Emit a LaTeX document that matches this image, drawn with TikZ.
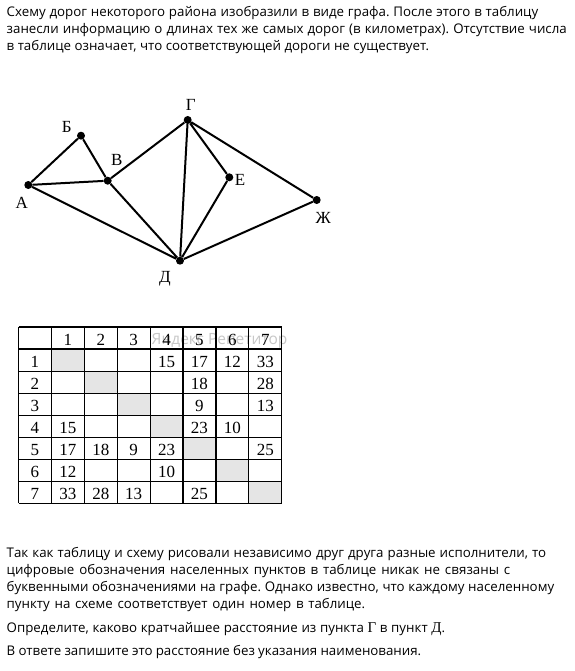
\documentclass[tikz,border=0pt]{standalone}
\usepackage{fontspec}
\setmainfont{Liberation Serif}
\newfontfamily\txtfont{Open Sans}
\frenchspacing
\newcommand\tcell[3]{\node[cellnum] (t#1#2) at ({18.5+32.9*(#2+0.5)},{327+22.05*(#1+1)-3.8}) {#3};}
\newcommand\srf[1]{{\rmfamily\fontsize{15}{15}\selectfont #1}}
\newcommand\tline[2]{\makebox[#1pt][s]{#2}}
\begin{document}
\begin{tikzpicture}[x=1pt,y=-1pt,
  txt/.style={anchor=base west, inner sep=0, font=\txtfont\fontsize{13.3}{16}\selectfont},
  vtx/.style={circle, fill=black, inner sep=0, minimum size=8},
  lbl/.style={inner sep=0, font=\fontsize{17}{17}\selectfont},
  edge/.style={line width=2},
  cellnum/.style={anchor=base, inner sep=0, font=\fontsize{17}{17}\selectfont},
  grid/.style={line width=1.2},
  shade/.style={fill=black!10, draw=none}]
\useasboundingbox (0,0) rectangle (574,671);
\fill[white] (0,0) rectangle (574,671);
% top text
\node[txt] (p1) at (6.5,17) {\tline{531.5}{Схему дорог некоторого района изобразили в виде графа. После этого в таблицу}};
\node[txt] (p2) at (6.5,34) {\tline{560}{занесли информацию о длинах тех же самых дорог (в километрах). Отсутствие числа}};
\node[txt] (p3) at (6.5,51) {\tline{422.5}{в таблице означает, что соответствующей дороги не существует.}};
% graph
\node[vtx] (A) at (28.3,185) {};
\node[vtx] (B) at (81,135.7) {};
\node[vtx] (V) at (107.7,180.7) {};
\node[vtx] (G) at (187.7,120) {};
\node[vtx] (E) at (229.3,177.3) {};
\node[vtx] (Zh) at (316.7,200) {};
\node[vtx] (D) at (180,260.7) {};
\draw[edge] (A) -- (B) (B) -- (V) (A) -- (V) (A) -- (D) (V) -- (G) (V) -- (D)
  (G) -- (D) (G) -- (E) (G) -- (Zh) (E) -- (D) (Zh) -- (D);
\node[lbl] (lA) at (21.7,203.3) {А};
\node[lbl] (lB) at (66.7,126.7) {Б};
\node[lbl] (lV) at (116.7,160) {В};
\node[lbl] (lG) at (190.7,105) {Г};
\node[lbl] (lE) at (240,180) {Е};
\node[lbl] (lZh) at (323.3,218.3) {Ж};
\node[lbl] (lD) at (165,278.3) {Д};
% table
\foreach \k in {1,...,7}
  \fill[shade] ({18.5+32.9*\k},{327+22.05*\k}) rectangle ({18.5+32.9*(\k+1)},{327+22.05*(\k+1)});
\node[anchor=west, inner sep=0, text=black!22, font=\txtfont\fontsize{15.5}{16}\selectfont] (wm) at (151.5,340.5) {Яндекс Репетитор};
\foreach \i in {0,...,8}
  \draw[grid] ({18.5+32.9*\i},327) -- ({18.5+32.9*\i},{327+22.05*8});
\foreach \j in {0,...,8}
  \draw[grid] (18.5,{327+22.05*\j}) -- ({18.5+32.9*8},{327+22.05*\j});
\foreach \k in {1,...,7} {
  \tcell{0}{\k}{\k}
  \tcell{\k}{0}{\k}
}
\tcell{1}{4}{15}\tcell{1}{5}{17}\tcell{1}{6}{12}\tcell{1}{7}{33}
\tcell{2}{5}{18}\tcell{2}{7}{28}
\tcell{3}{5}{9}\tcell{3}{7}{13}
\tcell{4}{1}{15}\tcell{4}{5}{23}\tcell{4}{6}{10}
\tcell{5}{1}{17}\tcell{5}{2}{18}\tcell{5}{3}{9}\tcell{5}{4}{23}\tcell{5}{7}{25}
\tcell{6}{1}{12}\tcell{6}{4}{10}
\tcell{7}{1}{33}\tcell{7}{2}{28}\tcell{7}{3}{13}\tcell{7}{5}{25}
% bottom text
\node[txt] (q1) at (6.5,557) {\tline{539.5}{Так как таблицу и схему рисовали независимо друг друга разные исполнители, то}};
\node[txt] (q2) at (6.5,574) {\tline{503.5}{цифровые обозначения населенных пунктов в таблице никак не связаны с}};
\node[txt] (q3) at (6.5,591) {\tline{547.5}{буквенными обозначениями на графе. Однако известно, что каждому населенному}};
\node[txt] (q4) at (6.5,608) {\tline{358.5}{пункту на схеме соответствует один номер в таблице.}};
\node[txt] (q5) at (6.5,632) {\tline{438.5}{Определите, каково кратчайшее расстояние из пункта \srf{Г} в пункт \srf{Д}.}};
\node[txt] (q6) at (6.5,655) {\tline{414.5}{В ответе запишите это расстояние без указания наименования.}};
\end{tikzpicture}
\end{document}
